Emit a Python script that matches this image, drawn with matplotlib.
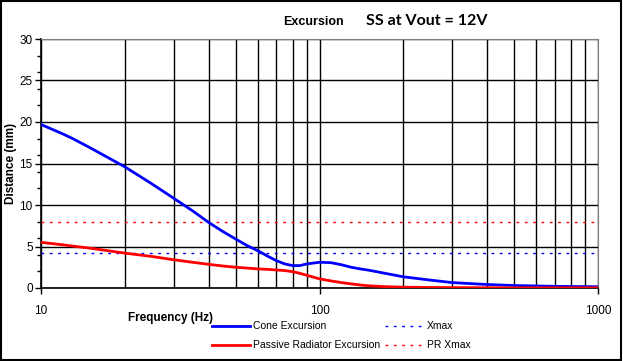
import matplotlib
matplotlib.use("Agg")
import matplotlib.pyplot as plt
from matplotlib.lines import Line2D
from matplotlib.patches import Rectangle
import numpy as np

# frequency (Hz) and excursion (mm)
freq = [10, 12, 13, 15, 20, 25, 30, 35, 40, 45, 50, 55, 60, 65, 70, 75, 80, 85, 90,
        100, 110, 120, 130, 140, 150, 170, 200, 250, 300, 400, 500, 700, 1000]
cone = [19.7, 18.55, 18.0, 16.9, 14.6, 12.55, 10.8, 9.3, 7.9, 6.8, 5.9, 5.1, 4.5, 3.85, 3.3, 2.9, 2.7, 2.7, 2.9,
        3.1, 3.05, 2.8, 2.5, 2.3, 2.15, 1.8, 1.35, 0.95, 0.65, 0.42, 0.3, 0.2, 0.15]
pr = [5.5, 5.2, 5.05, 4.8, 4.2, 3.8, 3.4, 3.1, 2.85, 2.65, 2.5, 2.4, 2.3, 2.25, 2.17, 2.1, 1.97, 1.77, 1.53,
      1.1, 0.85, 0.65, 0.5, 0.36, 0.27, 0.17, 0.1, 0.06, 0.05, 0.03, 0.02, 0.02, 0.02]
xmax = 4.2
pr_xmax = 8.0

fig = plt.figure(figsize=(6.23, 3.61), dpi=100)
plt.rcParams['font.family'] = ['Liberation Sans', 'DejaVu Sans']
ax = fig.add_axes([41/623, 73/361, 557/623, 249/361])

ax.set_xscale('log')
ax.set_xlim(10, 1000)
ax.set_ylim(0, 30)

ax.plot(freq, cone, color='#0000ff', lw=2, zorder=4)
ax.plot(freq, pr, color='#ff0000', lw=2, zorder=4)
ax.axhline(xmax, color='#0000ff', lw=1, ls=(0, (2, 4)), zorder=3)
ax.axhline(pr_xmax, color='#ff0000', lw=1, ls=(0, (2, 4)), zorder=3)

ax.set_yticks(np.arange(0, 31, 5))
ax.set_yticks(np.arange(0, 31, 2), minor=True)
ax.set_xticks([10, 100, 1000])
ax.set_xticklabels(['10', '100', '1000'])
ax.grid(True, which='major', axis='y', color='black', lw=1)
ax.grid(True, which='both', axis='x', color='black', lw=1)
ax.tick_params(axis='y', which='major', length=4, width=1, labelsize=8.5, pad=2)
ax.tick_params(axis='y', which='minor', length=3, width=1)
ax.tick_params(axis='x', which='major', length=4, width=1, labelsize=8.5, pad=8)
ax.tick_params(axis='x', which='minor', length=0, labelbottom=False)
for s in ['top', 'right']:
    ax.spines[s].set_color('#808080')
for s in ['left', 'bottom']:
    ax.spines[s].set_color('black')
    ax.spines[s].set_linewidth(1.2)

ax.set_ylabel('Distance (mm)', fontsize=8.5, fontweight='bold', labelpad=8)
ax.yaxis.set_label_coords(-0.043, 0.5)
fig.text(128/623, 1 - 318/361, 'Frequency (Hz)', fontsize=8.5, fontweight='bold', va='center', ha='left')

fig.text(283/623, 1 - 22/361, 'Excursion', fontsize=9, fontweight='bold', va='center', ha='left')
fig.text(366/623, 1 - 21/361, 'SS at Vout = 12V', fontsize=11.5, fontweight='bold',
         va='center', ha='left', family=['Lato', 'DejaVu Sans'])

# legend
rows = [(326, '#0000ff', 'Cone Excursion', 'Xmax'),
        (345, '#ff0000', 'Passive Radiator Excursion', 'PR Xmax')]
for y, c, lab1, lab2 in rows:
    yf = 1 - y/361
    fig.add_artist(Line2D([212/623, 250/623], [yf, yf], color=c, lw=2))
    fig.text(253/623, yf, lab1, fontsize=7.5, va='center', ha='left')
    fig.add_artist(Line2D([385/623, 422/623], [yf, yf], color=c, lw=1, ls=(0, (2, 4))))
    fig.text(427/623, yf, lab2, fontsize=7.5, va='center', ha='left')

fig.add_artist(Rectangle((0.0015, 0.003), 0.995, 0.994, transform=fig.transFigure,
                         fill=False, edgecolor='black', lw=1.5))

fig.savefig('out.png', dpi=100)
